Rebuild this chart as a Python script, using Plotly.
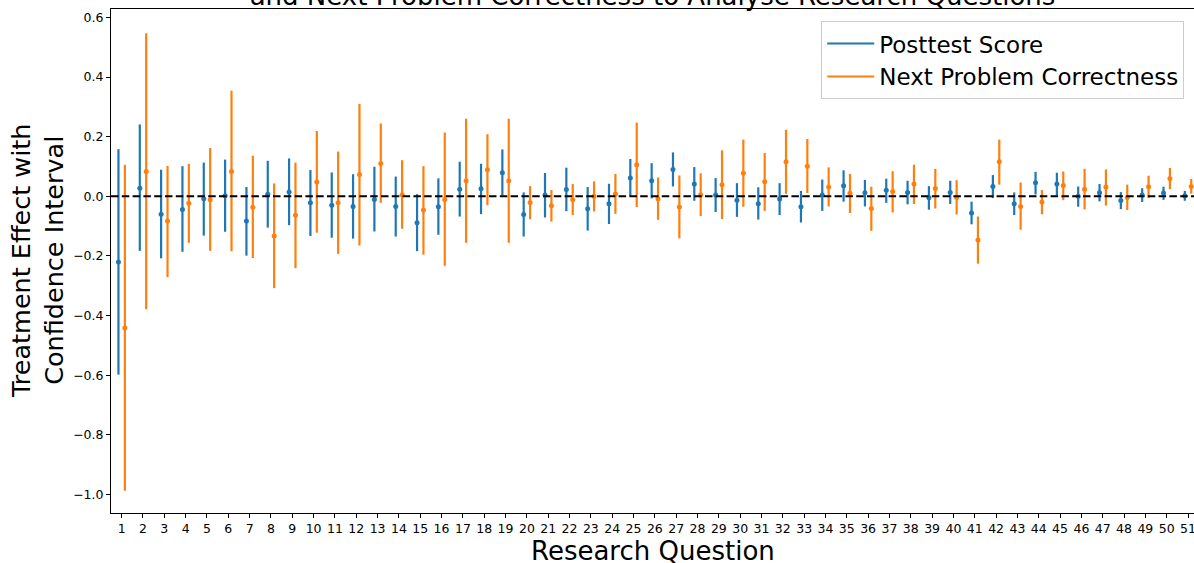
import numpy as np
import plotly.graph_objects as go

questions = list(range(1, 52))

posttest_effect = [-0.220, 0.027, -0.060, -0.044, -0.008, 0.002, -0.083, 0.007, 0.014, -0.022,
                   -0.030, -0.034, -0.011, -0.034, -0.089, -0.035, 0.024, 0.025, 0.079, -0.061,
                   0.004, 0.023, -0.042, -0.025, 0.061, 0.052, 0.090, 0.041, 0.004, -0.013,
                   -0.025, -0.009, -0.035, 0.004, 0.035, 0.012, 0.020, 0.013, -0.005, 0.013,
                   -0.056, 0.033, -0.025, 0.045, 0.041, 0.000, 0.012, -0.014, 0.004, 0.011, 0.002]
posttest_low = [-0.598, -0.183, -0.208, -0.186, -0.132, -0.119, -0.199, -0.105, -0.097, -0.133,
                -0.139, -0.142, -0.118, -0.135, -0.184, -0.129, -0.068, -0.060, 0.002, -0.135,
                -0.071, -0.050, -0.115, -0.093, 0.001, -0.007, 0.033, -0.015, -0.053, -0.069,
                -0.078, -0.063, -0.088, -0.049, -0.018, -0.034, -0.022, -0.027, -0.045, -0.026,
                -0.094, -0.006, -0.063, 0.006, 0.002, -0.035, -0.017, -0.043, -0.019, -0.012, -0.015]
posttest_high = [0.158, 0.241, 0.089, 0.101, 0.113, 0.123, 0.031, 0.119, 0.127, 0.088,
                 0.080, 0.074, 0.099, 0.066, 0.007, 0.060, 0.116, 0.109, 0.157, 0.013,
                 0.078, 0.096, 0.031, 0.042, 0.125, 0.111, 0.147, 0.098, 0.061, 0.044,
                 0.030, 0.044, 0.018, 0.056, 0.087, 0.055, 0.059, 0.052, 0.034, 0.052,
                 -0.018, 0.071, 0.013, 0.082, 0.079, 0.033, 0.041, 0.014, 0.027, 0.032, 0.018]

npc_effect = [-0.442, 0.083, -0.083, -0.023, -0.012, 0.083, -0.037, -0.133, -0.064, 0.048,
              -0.022, 0.073, 0.110, 0.005, -0.046, -0.011, 0.052, 0.089, 0.052, -0.021,
              -0.032, -0.012, 0.000, 0.008, 0.106, -0.008, -0.036, 0.005, 0.039, 0.077,
              0.049, 0.116, 0.101, 0.031, 0.010, -0.041, 0.016, 0.041, 0.026, -0.004,
              -0.147, 0.116, -0.034, -0.019, 0.036, 0.024, 0.031, -0.004, 0.032, 0.060, 0.033]
npc_low = [-0.987, -0.379, -0.271, -0.156, -0.183, -0.184, -0.207, -0.308, -0.241, -0.122,
           -0.193, -0.165, -0.022, -0.109, -0.196, -0.233, -0.156, -0.030, -0.156, -0.077,
           -0.085, -0.063, -0.051, -0.059, -0.036, -0.079, -0.141, -0.066, -0.076, -0.035,
           -0.049, 0.008, 0.011, -0.034, -0.056, -0.116, -0.054, -0.026, -0.041, -0.061,
           -0.226, 0.039, -0.112, -0.060, -0.013, -0.044, -0.031, -0.046, -0.006, 0.024, 0.009]
npc_high = [0.106, 0.547, 0.102, 0.109, 0.162, 0.354, 0.136, 0.043, 0.113, 0.219,
            0.150, 0.310, 0.244, 0.121, 0.101, 0.214, 0.260, 0.208, 0.260, 0.034,
            0.021, 0.041, 0.050, 0.075, 0.247, 0.063, 0.070, 0.077, 0.154, 0.190,
            0.145, 0.223, 0.192, 0.097, 0.075, 0.032, 0.084, 0.106, 0.092, 0.054,
            -0.068, 0.190, 0.046, 0.021, 0.083, 0.092, 0.090, 0.039, 0.069, 0.095, 0.058]

y_tick_vals = [-1.0, -0.8, -0.6, -0.4, -0.2, 0.0, 0.2, 0.4, 0.6]
y_tick_text = ["\u22121.0", "\u22120.8", "\u22120.6", "\u22120.4", "\u22120.2", "0.0", "0.2", "0.4", "0.6"]
x_tick_text = [str(q) for q in questions]

series_names = ["Posttest Score", "Next Problem Correctness"]
title_text = "and Next Problem Correctness to Analyse Research Questions"
x_title = "Research Question"
y_title = "Treatment Effect with<br>Confidence Interval"

BLUE = "#1f77b4"
ORANGE = "#ff7f0e"
FONT = "DejaVu Sans"

q = np.array(questions, dtype=float)
offset = 0.15

fig = go.Figure()

for name, eff, lo, hi, color, dx in [
    (series_names[0], posttest_effect, posttest_low, posttest_high, BLUE, -offset),
    (series_names[1], npc_effect, npc_low, npc_high, ORANGE, offset),
]:
    eff = np.array(eff)
    lo = np.array(lo)
    hi = np.array(hi)
    fig.add_trace(go.Scatter(
        x=q + dx, y=eff, mode="markers", name=name, showlegend=False,
        marker=dict(color=color, size=5),
        error_y=dict(type="data", symmetric=False, array=hi - eff, arrayminus=eff - lo,
                     color=color, thickness=2.2, width=0),
    ))

# legend entries drawn as lines, like the reference
for name, color in [(series_names[0], BLUE), (series_names[1], ORANGE)]:
    fig.add_trace(go.Scatter(x=[None], y=[None], mode="lines", name=name,
                             line=dict(color=color, width=2)))

fig.add_shape(type="line", xref="paper", x0=0, x1=1, yref="y", y0=0, y1=0,
              line=dict(color="black", width=2, dash="7.5px,3.3px"), layer="above")

# axis titles placed as annotations for exact positioning
fig.add_annotation(text=x_title, xref="paper", yref="paper", x=0.5, y=0,
                   xanchor="center", yanchor="middle", yshift=-38, showarrow=False,
                   font=dict(size=26, family=FONT, color="black"))
fig.add_annotation(text=y_title, xref="paper", yref="paper", x=0, y=0.5,
                   xanchor="center", yanchor="middle", xshift=-74, textangle=-90,
                   showarrow=False, font=dict(size=25.5, family=FONT, color="black"))

fig.update_layout(
    width=1194, height=563,
    margin=dict(l=111, r=0, t=9, b=50),
    paper_bgcolor="white", plot_bgcolor="white",
    font=dict(family=FONT, color="black"),
    title=dict(text=title_text,
               x=0.5, xref="paper", xanchor="center",
               y=1, yref="paper", yanchor="bottom", pad=dict(b=4),
               font=dict(size=26, family=FONT, color="black")),
    legend=dict(x=0.991, y=0.976, xanchor="right", yanchor="top",
                bgcolor="white", bordercolor="#cccccc", borderwidth=1,
                font=dict(size=23, family=FONT, color="black"),
                itemwidth=47),
    showlegend=True,
)

fig.update_xaxes(
    range=[0.5, 51.28], tickmode="array", tickvals=questions, ticktext=x_tick_text,
    showgrid=False, zeroline=False, showline=True, linecolor="black", linewidth=1,
    mirror=True, ticks="outside", ticklen=4, tickwidth=1, tickcolor="black",
    tickfont=dict(size=12.5, family=FONT, color="black"),
    ticklabeloverflow="allow",
    automargin=False,
)
fig.update_yaxes(
    range=[-1.062, 0.628], tickmode="array", tickvals=y_tick_vals, ticktext=y_tick_text,
    showgrid=False, zeroline=False, showline=True, linecolor="black", linewidth=1,
    mirror=True, ticks="outside", ticklen=4, tickwidth=1, tickcolor="black",
    tickfont=dict(size=12.5, family=FONT, color="black"),
    automargin=False,
)

fig.write_html("out.html",
               config={"displayModeBar": False},
               post_script="document.body.style.margin='0';document.body.style.padding='0';")
